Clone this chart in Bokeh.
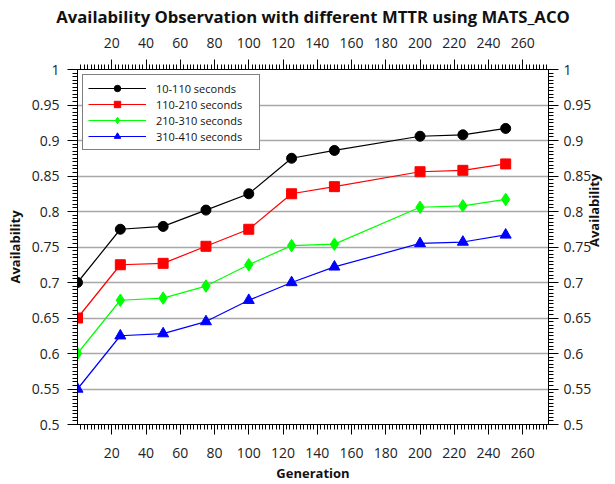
import math

from bokeh.plotting import figure
from bokeh.models import (LinearAxis, FixedTicker, Range1d, Grid,
                          CustomJSTickFormatter, Legend, LegendItem)
from bokeh.embed import file_html
from bokeh.resources import INLINE

# Availability per generation for each MTTR band
generation = [0, 25, 50, 75, 100, 125, 150, 200, 225, 250]
avail_10_110 = [0.700, 0.775, 0.779, 0.802, 0.825, 0.875, 0.886, 0.906, 0.908, 0.917]
avail_110_210 = [0.650, 0.725, 0.727, 0.751, 0.775, 0.825, 0.835, 0.856, 0.858, 0.867]
avail_210_310 = [0.600, 0.675, 0.678, 0.695, 0.725, 0.752, 0.754, 0.806, 0.808, 0.817]
avail_310_410 = [0.550, 0.625, 0.628, 0.645, 0.675, 0.700, 0.722, 0.755, 0.757, 0.767]

series_labels = ["10-110 seconds", "110-210 seconds", "210-310 seconds", "310-410 seconds"]
series_colors = ["#000000", "#ff0000", "#00ff00", "#0000ff"]
series_markers = ["circle", "square", "diamond", "triangle"]
series_sizes = [10, 10, 12.5, 11]

x_ticks = [20, 40, 60, 80, 100, 120, 140, 160, 180, 200, 220, 240, 260]
y_ticks = [0.5, 0.55, 0.6, 0.65, 0.7, 0.75, 0.8, 0.85, 0.9, 0.95, 1.0]

FONT = "Open Sans"

p = figure(width=615, height=484,
           x_range=Range1d(0, 275), y_range=Range1d(0.5, 1.0),
           x_axis_type=None, y_axis_type=None,
           output_backend="svg", toolbar_location=None,
           min_border_left=77, min_border_right=67,
           min_border_top=69, min_border_bottom=60)

p.title.text = "Availability Observation with different MTTR using MATS_ACO"
p.title.align = "center"
p.title.vertical_align = "top"
p.title.offset = -8
p.title.standoff = 9
p.title.text_font = FONT
p.title.text_font_size = "16.7px"
p.title.text_font_style = "bold"
p.title.text_color = "#111111"

p.outline_line_color = "black"
p.outline_line_width = 1
p.outline_line_alpha = 1
p.background_fill_color = "white"
p.border_fill_color = "white"

x_ticker = FixedTicker(ticks=x_ticks, minor_ticks=list(range(2, 276, 2)))
y_ticker = FixedTicker(ticks=y_ticks, minor_ticks=[round(0.5 + 0.005 * i, 3) for i in range(101)])
fmt = CustomJSTickFormatter(code="return String(parseFloat(tick.toFixed(3)));")


def style_axis(ax, label_standoff, title_standoff):
    ax.axis_line_color = "black"
    ax.axis_line_width = 1
    ax.major_tick_line_color = "black"
    ax.minor_tick_line_color = "black"
    ax.major_tick_in = 0
    ax.major_tick_out = 10
    ax.minor_tick_in = 0
    ax.minor_tick_out = 5
    ax.major_label_text_font = FONT
    ax.major_label_text_font_size = "14px"
    ax.major_label_text_color = "#222222"
    ax.axis_label_text_font = FONT
    ax.axis_label_text_font_size = "13px"
    ax.axis_label_text_font_style = "bold"
    ax.axis_label_text_color = "#111111"
    ax.major_label_standoff = label_standoff
    ax.axis_label_standoff = title_standoff
    return ax


bottom = style_axis(LinearAxis(ticker=x_ticker, axis_label="Generation"), 13, 3)
top = style_axis(LinearAxis(ticker=x_ticker), 12, 0)
left = style_axis(LinearAxis(ticker=y_ticker, formatter=fmt, axis_label="Availability"), 8, 5)
right = style_axis(LinearAxis(ticker=y_ticker, formatter=fmt, axis_label="Availability"), 5, 0)
right.axis_label_orientation = math.pi / 2

p.add_layout(bottom, "below")
p.add_layout(top, "above")
p.add_layout(left, "left")
p.add_layout(right, "right")

grid = Grid(dimension=1, ticker=y_ticker, grid_line_color="#a8a8a8", grid_line_width=1.5)
p.add_layout(grid)

series = [avail_10_110, avail_110_210, avail_210_310, avail_310_410]
items = []
for vals, lab, col, mk, sz in zip(series, series_labels, series_colors,
                                  series_markers, series_sizes):
    ln = p.line(generation, vals, line_color=col, line_width=1.2)
    sc = p.scatter(generation, vals, marker=mk, size=sz,
                   fill_color=col, line_color=col)
    items.append(LegendItem(label=lab, renderers=[ln, sc]))

legend = Legend(items=items, location="top_left", margin=5, padding=5,
                spacing=0, glyph_width=58, glyph_height=16, label_height=16,
                label_width=98, label_standoff=10,
                label_text_font=FONT, label_text_font_size="11px",
                label_text_color="#111111",
                border_line_color="black", border_line_width=1,
                background_fill_color="white", background_fill_alpha=1)
p.add_layout(legend)

open("out.html", "w").write(file_html(p, INLINE))
